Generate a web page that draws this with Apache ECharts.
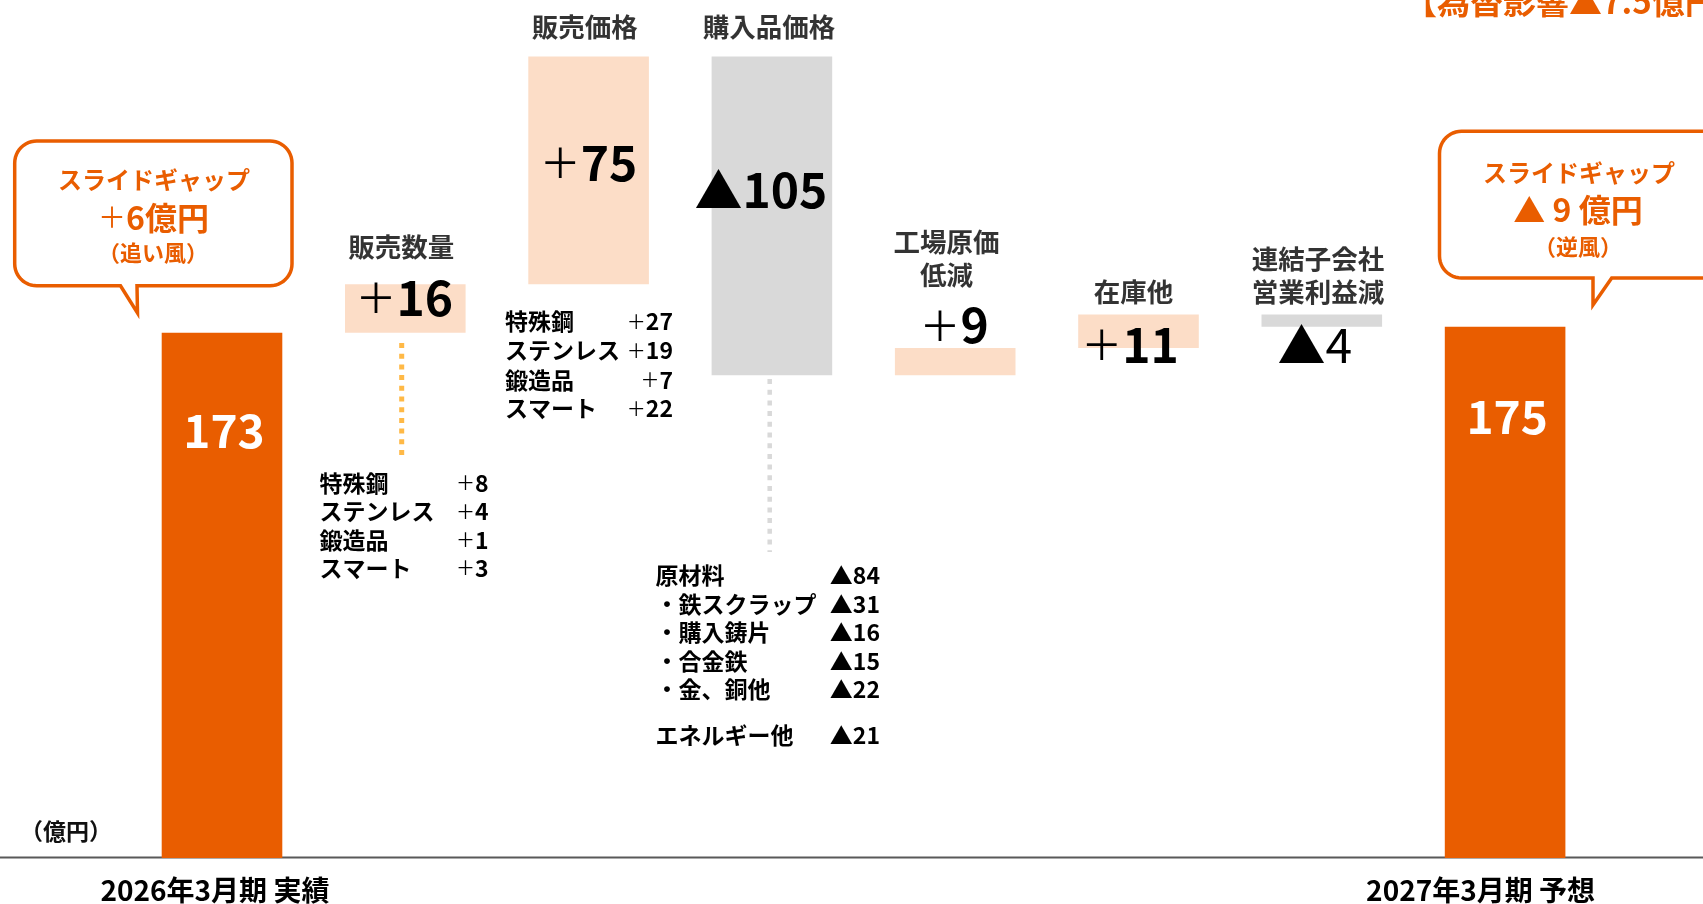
<!DOCTYPE html>
<html>
<head>
<meta charset="utf-8">
<title>営業利益 増減要因</title>
<script src="https://cdn.jsdelivr.net/npm/echarts@6/dist/echarts.min.js"></script>
<style>
  html, body { margin: 0; padding: 0; background: #ffffff; }
  #chart { width: 1703px; height: 904px; }
</style>
</head>
<body>
<div id="chart"></div>
<script>
// ---- data ----
const categories = ['2026年3月期 実績', '販売数量', '販売価格', '購入品価格', '工場原価低減', '在庫他', '連結子会社営業利益減', '2027年3月期 予想'];
const headerLabels = ['', '販売数量', '販売価格', '購入品価格', '工場原価\n低減', '在庫他', '連結子会社\n営業利益減', ''];
const startValue = 173;
const changes = [16, 75, -105, 9, 11, -4];
const endValue = 175;

const volumeNames = ['特殊鋼', 'ステンレス', '鍛造品', 'スマート'];
const volumeValues = [8, 4, 1, 3];
const priceNames = ['特殊鋼', 'ステンレス', '鍛造品', 'スマート'];
const priceValues = [27, 19, 7, 22];
const purchaseNames = ['原材料', '・鉄スクラップ', '・購入鋳片', '・合金鉄', '・金、銅他', 'エネルギー他'];
const purchaseValues = [-84, -31, -16, -15, -22, -21];

const slideGapTitle = 'スライドギャップ';
const slideGapBefore = 6;
const slideGapBeforeNote = '（追い風）';
const slideGapAfter = -9;
const slideGapAfterNote = '（逆風）';
const fxImpact = -7.5;
const unitLabel = '（億円）';

// ---- styles ----
const FONT = '"Noto Sans CJK JP", "Noto Sans", sans-serif';
const ORANGE = '#E95D00';
const PEACH = '#FCDDC7';
const GREY = '#D9D9D9';
const INK = '#000000';

// ---- waterfall stack ----
const base = [0];
const delta = [startValue];
const signed = [startValue];
const colors = [ORANGE];
let running = startValue;
changes.forEach(function (d) {
  if (d >= 0) { base.push(running); delta.push(d); colors.push(PEACH); }
  else { base.push(running + d); delta.push(-d); colors.push(GREY); }
  signed.push(d);
  running += d;
});
base.push(0); delta.push(endValue); signed.push(endValue); colors.push(ORANGE);
const lastIdx = categories.length - 1;

// label placement per bar: [dx from bar centre, dy from bar top]
const valueLabelPos = [[2, 98], [-1, 13.6], [0, 106.2], [-11, 133.2], [-1, -23], [-8.5, 30.3], [-7, 30.3], [2, 90]];
// header placement per bar: [dx, dy] from the bar's top centre
const headerPos = [null, [-4, -37.4], [-3.8, -29.3], [-3, -29.3], [-8.6, -89.7], [-5, -23], [-3.8, -39.4], null];
// digits drawn in regular weight for this bar
const thinDigitIdx = [6];

function signedText(v) {
  return v >= 0 ? '{p|＋}{d|' + v + '}' : '{t|▲}{d|' + (-v) + '}';
}

const valueRich = {
  p: { fontFamily: FONT, fontSize: 41, fontWeight: 'normal', color: INK },
  d: { fontFamily: FONT, fontSize: 48, fontWeight: 'bold', color: INK },
  n: { fontFamily: FONT, fontSize: 48, fontWeight: 'normal', color: INK },
  t: { fontFamily: FONT, fontSize: 48, fontWeight: 'normal', color: INK },
  w: { fontFamily: FONT, fontSize: 46, fontWeight: 'bold', color: '#ffffff' }
};

const deltaData = delta.map(function (v, i) {
  return {
    value: v,
    itemStyle: { color: colors[i] },
    label: {
      position: ['50%', valueLabelPos[i][1]],
      offset: [valueLabelPos[i][0], 0]
    }
  };
});

const headerData = [];
for (let i = 1; i < lastIdx; i++) {
  headerData.push({
    value: [i, base[i] + delta[i]],
    label: { offset: headerPos[i] },
    name: headerLabels[i]
  });
}

// ---- annotations ----
const graphics = [];
// baseline across the full width
graphics.push({ type: 'line', z: 1, shape: { x1: 0, y1: 857.5, x2: 1703, y2: 857.5 }, style: { stroke: '#595959', lineWidth: 2 } });
// dotted leaders from bars to breakdowns
graphics.push({ type: 'line', shape: { x1: 401.7, y1: 343, x2: 401.7, y2: 457 }, style: { stroke: '#FFB946', lineWidth: 5, lineDash: [5, 5.7] } });
graphics.push({ type: 'line', shape: { x1: 769.7, y1: 379, x2: 769.7, y2: 552 }, style: { stroke: GREY, lineWidth: 4.5, lineDash: [5, 5.7] } });

function textEl(x, y, text, size, weight, fill, align, rich) {
  const st = { x: 0, y: 0, text: text, fontFamily: FONT, fontSize: size, fontWeight: weight, fill: fill, align: align || 'center', verticalAlign: 'middle' };
  if (rich) st.rich = rich;
  return { type: 'text', x: x, y: y, style: st };
}

function listRich(size) {
  return {
    p: { fontFamily: FONT, fontSize: size - 4, fontWeight: 'normal', fill: INK },
    d: { fontFamily: FONT, fontSize: size, fontWeight: 'bold', fill: INK },
    t: { fontFamily: FONT, fontSize: size, fontWeight: 'bold', fill: INK }
  };
}

function addList(names, values, left, right, ys) {
  names.forEach(function (n, k) {
    graphics.push(textEl(left, ys[k], n, 23, 'bold', INK, 'left'));
    graphics.push(textEl(right, ys[k], signedText(values[k]), 23, 'bold', INK, 'right', listRich(23)));
  });
}
addList(priceNames, priceValues, 505, 673, [321.7, 350.7, 380, 408.5]);
addList(volumeNames, volumeValues, 319.5, 488.5, [483, 511.5, 540, 568]);
addList(purchaseNames, purchaseValues, 655.5, 880, [575, 604, 632.7, 661, 689.5, 735]);

// speech bubbles
function bubble(x0, y0, x1, y1, r, tailL, tailR, tipX, tipY) {
  const pts = [];
  function arc(cx, cy, a0, a1) {
    for (let s = 0; s <= 12; s++) {
      const a = (a0 + (a1 - a0) * s / 12) * Math.PI / 180;
      pts.push([cx + r * Math.cos(a), cy + r * Math.sin(a)]);
    }
  }
  arc(x0 + r, y0 + r, 180, 270);
  arc(x1 - r, y0 + r, 270, 360);
  arc(x1 - r, y1 - r, 0, 90);
  pts.push([tailR, y1], [tipX, tipY], [tailL, y1]);
  arc(x0 + r, y1 - r, 90, 180);
  return { type: 'polygon', shape: { points: pts }, style: { fill: '#ffffff', stroke: ORANGE, lineWidth: 3.5, lineJoin: 'miter' } };
}
graphics.push(bubble(14.7, 141, 292, 285.8, 22, 120.5, 137, 137.5, 313));
graphics.push(bubble(1439.5, 131.3, 1740, 278, 22, 1593, 1611.7, 1593, 305));

const bubbleRich = {
  p: { fontFamily: FONT, fontSize: 28, fontWeight: 'normal', fill: ORANGE },
  d: { fontFamily: FONT, fontSize: 32, fontWeight: 'bold', fill: ORANGE }
};
graphics.push(textEl(154, 180, slideGapTitle, 24, 'bold', ORANGE));
graphics.push(textEl(153.5, 217.5, '{p|＋}{d|' + slideGapBefore + '億円}', 32, 'bold', ORANGE, 'center', bubbleRich));
graphics.push(textEl(153, 253, slideGapBeforeNote, 22, 'bold', ORANGE));
graphics.push(textEl(1579, 172.5, slideGapTitle, 24, 'bold', ORANGE));
graphics.push(textEl(1578, 210, '▲ ' + Math.abs(slideGapAfter) + ' 億円', 32, 'bold', ORANGE));
graphics.push(textEl(1578, 246.7, slideGapAfterNote, 22, 'bold', ORANGE));

// exchange-rate note and unit
graphics.push(textEl(1404, 1, '【為替影響▲' + Math.abs(fxImpact) + '億円】', 33, 'bold', ORANGE, 'left'));
graphics.push(textEl(66, 831, unitLabel, 23, 'bold', '#111111', 'center'));

// ---- chart ----
const chart = echarts.init(document.getElementById('chart'), null, { renderer: 'canvas' });
chart.setOption({
  animation: false,
  backgroundColor: '#ffffff',
  grid: { left: 130.35, right: 106.25, top: 8, bottom: 46, containLabel: false },
  xAxis: {
    type: 'category',
    data: categories,
    axisLine: { show: false },
    axisTick: { show: false },
    axisLabel: {
      interval: 0,
      margin: 18,
      formatter: function (v, i) {
        if (i === 0) return '{a|' + v + '}';
        if (i === lastIdx) return '{b|' + v + '}';
        return '';
      },
      rich: {
        a: { fontFamily: FONT, fontSize: 28, fontWeight: 'bold', color: INK, padding: [0, 14, 0, 0] },
        b: { fontFamily: FONT, fontSize: 28, fontWeight: 'bold', color: INK, padding: [0, 49, 0, 0] }
      }
    }
  },
  yAxis: { type: 'value', min: 0, max: 280, show: false, splitLine: { show: false } },
  series: [
    {
      type: 'bar', stack: 'waterfall', data: base, barWidth: 120.6, silent: true,
      itemStyle: { color: 'rgba(0,0,0,0)' }
    },
    {
      type: 'bar', stack: 'waterfall', data: deltaData, barWidth: 120.6, silent: true,
      label: {
        show: true,
        align: 'center',
        verticalAlign: 'middle',
        fontFamily: FONT,
        fontSize: 46,
        fontWeight: 'bold',
        color: INK,
        rich: valueRich,
        formatter: function (p) {
          const i = p.dataIndex;
          if (i === 0 || i === lastIdx) return '{w|' + signed[i] + '}';
          const v = signed[i];
          const digitStyle = thinDigitIdx.indexOf(i) >= 0 ? 'n' : 'd';
          return v >= 0 ? '{p|＋}{' + digitStyle + '|' + v + '}' : '{t|▲}{' + digitStyle + '|' + (-v) + '}';
        }
      }
    },
    {
      type: 'scatter', data: headerData, symbolSize: 0.1, silent: true, z: 5,
      itemStyle: { color: 'rgba(0,0,0,0)' },
      label: {
        show: true,
        position: 'inside',
        align: 'center',
        verticalAlign: 'middle',
        fontFamily: FONT,
        fontSize: 26.5,
        fontWeight: 'bold',
        lineHeight: 33,
        color: INK,
        formatter: function (p) { return p.name; }
      }
    }
  ],
  graphic: { elements: graphics }
});
</script>
</body>
</html>
